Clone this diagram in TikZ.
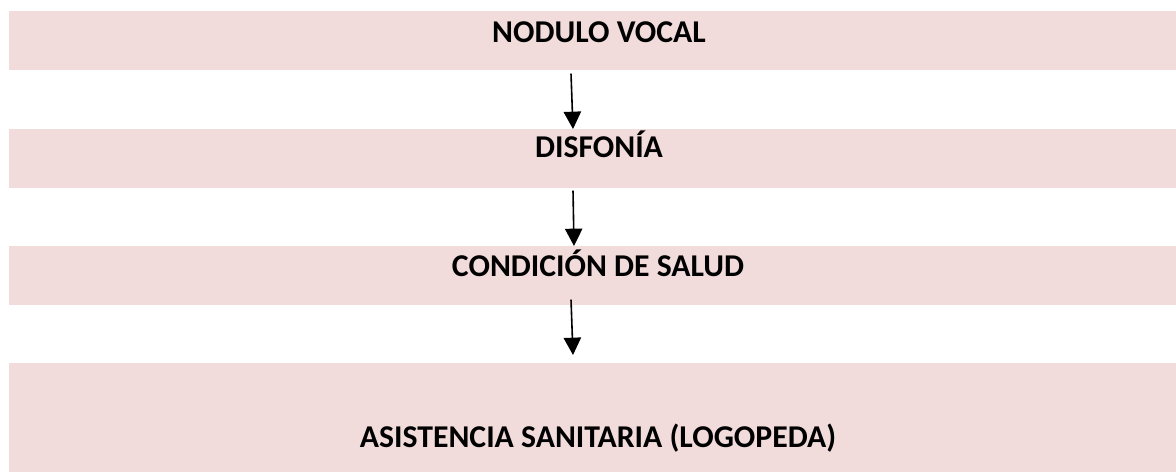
\documentclass[tikz,border=0pt]{standalone}
\usepackage{fontspec}
\setmainfont{Carlito}
\usetikzlibrary{arrows.meta,calc}
\definecolor{boxpink}{RGB}{242,220,219}
\tikzset{
  box/.style={fill=boxpink,draw=none,anchor=north west,inner sep=0pt,minimum width=875.25pt,minimum height=44.25pt},
  lbl/.style={anchor=base,inner sep=0pt,font=\bfseries\fontsize{23.8}{28}\selectfont},
  arr/.style={line width=1.2pt,-{Triangle[width=13pt,length=13pt]}}
}
\begin{document}
\begin{tikzpicture}[x=0.75pt,y=-0.75pt]
\useasboundingbox (0,0) rectangle (1176,472);
\node[box] (nodulo) at (9,11) {};
\node[box] (disfonia) at (9,129) {};
\node[box] (condicion) at (9,246) {};
\node[box,minimum height=81.75pt] (asistencia) at (9,363) {};
\node[lbl] (tnodulo) at (599,42) {NODULO VOCAL};
\node[lbl] (tdisfonia) at (599,157) {DISFONÍA};
\node[lbl] (tcondicion) at (598,276) {CONDICIÓN DE SALUD};
\node[lbl] (tasistencia) at (598,447) {ASISTENCIA SANITARIA (LOGOPEDA)};
\draw[arr] ($(nodulo.south west)+(562,3)$) -- ($(disfonia.north west)+(564,0)$);
\draw[arr] ($(disfonia.south west)+(564,2)$) -- ($(condicion.north west)+(565,0)$);
\draw[arr] ($(condicion.south west)+(562,-6)$) -- ($(asistencia.north west)+(564,-8)$);
\end{tikzpicture}
\end{document}
